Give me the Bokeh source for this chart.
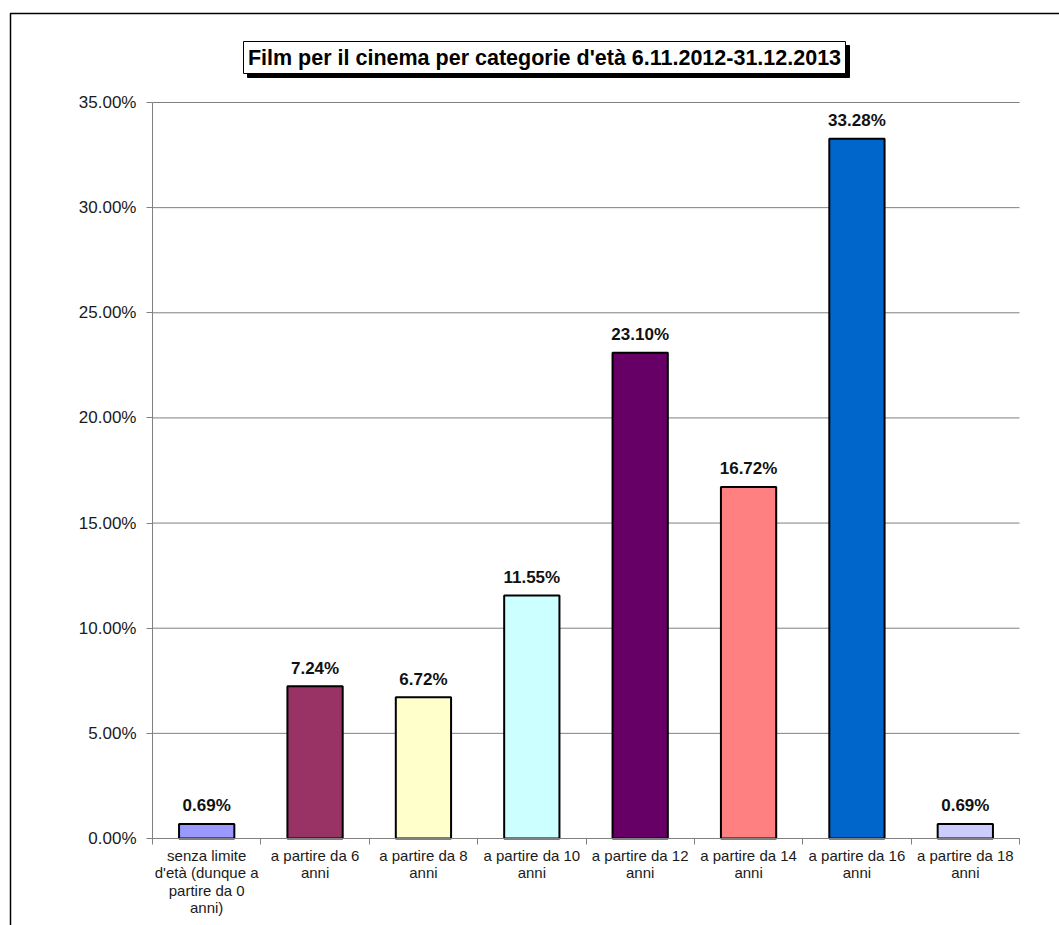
from bokeh.plotting import figure
from bokeh.models import (Range1d, FixedTicker, LinearAxis, PrintfTickFormatter,
                          ColumnDataSource, LabelSet, Label, BoxAnnotation)
from bokeh.core.properties import value
from bokeh.embed import file_html
from bokeh.resources import INLINE

title_text = "Film per il cinema per categorie d'età 6.11.2012-31.12.2013"
categories = [
    "senza limite\nd'età (dunque a\npartire da 0\nanni)",
    "a partire da 6\nanni",
    "a partire da 8\nanni",
    "a partire da 10\nanni",
    "a partire da 12\nanni",
    "a partire da 14\nanni",
    "a partire da 16\nanni",
    "a partire da 18\nanni",
]
values = [0.69, 7.24, 6.72, 11.55, 23.10, 16.72, 33.28, 0.69]
colors = ["#9999FF", "#993366", "#FFFFCC", "#CCFFFF", "#660066", "#FF8080", "#0066CC", "#CCCCFF"]
y_ticks = [0, 5, 10, 15, 20, 25, 30, 35]

FONT = "Liberation Sans"
n = len(categories)
xs = [i + 0.5 for i in range(n)]
bounds = list(range(n + 1))
y_max = y_ticks[-1]

# page / plot-area geometry in pixels
W, H = 1059, 925
PL, PR, PT, PB = 152, 1019, 102, 838
sx = (PR - PL) / n          # px per category
sy = (PB - PT) / y_max      # px per percent

def xd(px):
    return (px - PL) / sx

def yd(py):
    return (PB - py) / sy

p = figure(width=W, height=H, output_backend="svg", toolbar_location=None,
           x_range=Range1d(xd(0), xd(W)), y_range=Range1d(yd(H), yd(0)),
           x_axis_type=None, y_axis_type=None,
           min_border=0, min_border_left=0, min_border_right=0,
           min_border_top=0, min_border_bottom=0)
p.outline_line_color = None
p.background_fill_color = "white"
p.border_fill_color = "white"
p.grid.visible = False

# horizontal grid lines across the plot area only
p.segment(x0=[0] * len(y_ticks), x1=[n] * len(y_ticks), y0=y_ticks, y1=y_ticks,
          line_color="#808080", line_width=1)

# y axis
yax = LinearAxis(ticker=FixedTicker(ticks=y_ticks), formatter=PrintfTickFormatter(format="%.2f%%"),
                 fixed_location=0, bounds=(0, y_max))
yax.axis_line_color = "#808080"
yax.major_tick_line_color = "#808080"
yax.major_tick_out = 6
yax.major_tick_in = 0
yax.minor_tick_line_color = None
yax.major_label_text_font = FONT
yax.major_label_text_font_size = "17px"
yax.major_label_text_color = "#1a1a1a"
yax.major_label_standoff = 10
p.add_layout(yax, "left")

# x axis: labels at category centres, tick marks at category boundaries
xax = LinearAxis(ticker=FixedTicker(ticks=xs, minor_ticks=bounds),
                 fixed_location=0, bounds=(0, n))
xax.axis_line_color = "#808080"
xax.major_tick_line_color = None
xax.major_tick_out = 0
xax.major_tick_in = 0
xax.minor_tick_line_color = "#808080"
xax.minor_tick_out = 6
xax.minor_tick_in = 0
xax.major_label_overrides = {x: c for x, c in zip(xs, categories)}
xax.major_label_text_font = FONT
xax.major_label_text_font_size = "15px"
xax.major_label_text_line_height = 1.03
xax.major_label_text_color = "#1a1a1a"
xax.major_label_standoff = 2
p.add_layout(xax, "below")

src = ColumnDataSource(dict(x=xs, top=values, color=colors,
                            label=["%.2f%%" % v for v in values]))
p.vbar(x="x", top="top", width=0.51, bottom=0, fill_color="color",
       line_color="black", line_width=2, source=src)

labels = LabelSet(x="x", y="top", text="label", source=src, text_align="center",
                  text_baseline="middle", y_offset=18, text_font=value(FONT),
                  text_font_size="17px", text_font_style="bold", text_color="#111111")
p.add_layout(labels)

# outer chart border
p.add_layout(BoxAnnotation(left=xd(10), right=xd(W + 50), top=yd(13), bottom=yd(H + 50),
                           fill_alpha=0, line_color="black", line_alpha=1.0, line_width=1.5))

# title box with drop shadow
p.quad(left=[xd(247)], right=[xd(849)], top=[yd(45)], bottom=[yd(77)],
       fill_color="black", line_color="black", line_width=1)
p.quad(left=[xd(243)], right=[xd(845)], top=[yd(41)], bottom=[yd(73)],
       fill_color="white", line_color="black", line_width=1)
tlabel = Label(x=xd(544), y=yd(57), text=title_text,
               text_align="center", text_baseline="middle",
               text_font=FONT, text_font_size="21.5px", text_font_style="bold", text_color="black")
p.add_layout(tlabel)

open("out.html", "w").write(file_html(p, INLINE))
